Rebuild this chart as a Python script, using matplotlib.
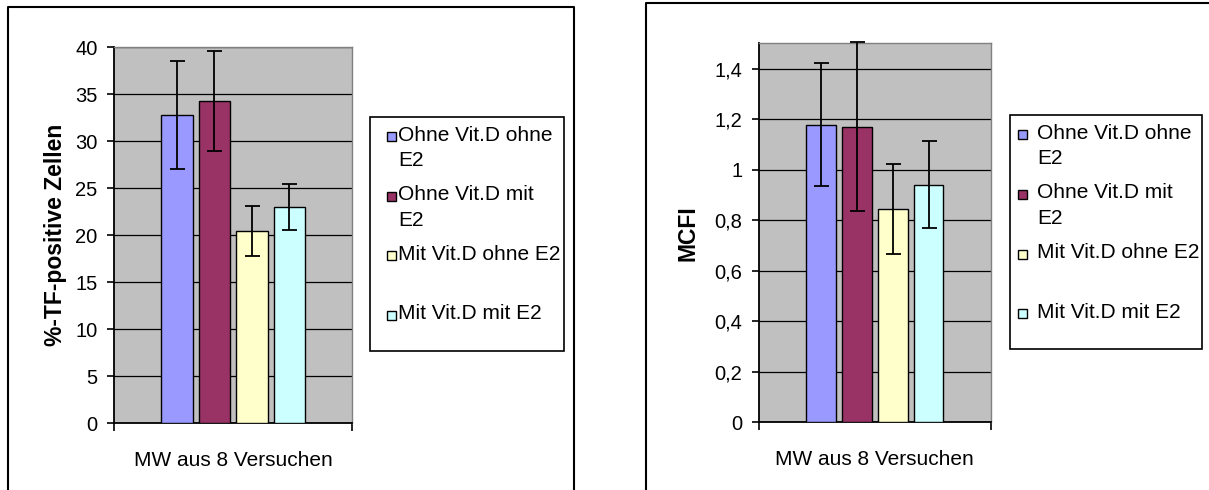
import numpy as np
import matplotlib
matplotlib.use("Agg")
import matplotlib.pyplot as plt
from matplotlib.ticker import FuncFormatter, MultipleLocator
from matplotlib.patches import Rectangle
from matplotlib.lines import Line2D

plt.rcParams['font.family'] = ['Liberation Sans', 'DejaVu Sans']

# data
groups = ["Ohne Vit.D ohne E2", "Ohne Vit.D mit E2", "Mit Vit.D ohne E2", "Mit Vit.D mit E2"]
legend_labels = ["Ohne Vit.D ohne\nE2", "Ohne Vit.D mit\nE2", "Mit Vit.D ohne E2", "Mit Vit.D mit E2"]
category = "MW aus 8 Versuchen"

tf_mean = [32.8, 34.3, 20.5, 23.0]
tf_err = [5.7, 5.35, 2.65, 2.45]

mcfi_mean = [1.178, 1.170, 0.845, 0.940]
mcfi_err = [0.243, 0.335, 0.178, 0.172]

colors = ['#9999FF', '#993366', '#FFFFCC', '#CCFFFF']

W, H = 1209, 490


def px_rect(x0, y0, x1, y1):
    # pixel box (top-left origin) -> figure fraction
    return [x0 / W, 1 - y1 / H, (x1 - x0) / W, (y1 - y0) / H]


def comma_fmt(v, pos):
    return f"{v:g}".replace('.', ',')


def draw_panel(fig, box, means, errs, ymax, step, ylabel, xlim, width, label_x):
    ax = fig.add_axes(px_rect(*box))
    ax.set_facecolor('#C0C0C0')
    x = np.arange(len(means))
    ax.bar(x, means, width=width, color=colors, edgecolor='black', linewidth=1.0, zorder=3)
    ax.errorbar(x, means, yerr=errs, fmt='none', ecolor='black', elinewidth=1.3,
                capsize=5.4, capthick=1.3, zorder=4, clip_on=False)
    ax.set_xlim(*xlim)
    ax.set_ylim(0, ymax)
    ax.yaxis.set_major_locator(MultipleLocator(step))
    ax.yaxis.set_major_formatter(FuncFormatter(comma_fmt))
    ax.grid(axis='y', color='black', linewidth=0.9, zorder=1)
    ax.set_axisbelow(True)

    ax.set_xticks([1.5])
    ax.set_xticklabels([category], fontsize=15)
    ax.tick_params(axis='x', which='major', length=0, pad=20)
    ax.set_xticks(list(xlim), minor=True)
    ax.tick_params(axis='x', which='minor', length=6, width=1.2, direction='out')
    ax.tick_params(axis='y', length=5, width=1.2, direction='out', pad=7, labelsize=14.5)

    for s in ['top', 'right']:
        ax.spines[s].set_color('#808080')
        ax.spines[s].set_linewidth(1.0)
    for s in ['left', 'bottom']:
        ax.spines[s].set_color('black')
        ax.spines[s].set_linewidth(1.3)

    ax.set_ylabel(ylabel, fontsize=16.5, fontweight='bold')
    ax.yaxis.set_label_coords(label_x, 0.5)
    return ax


def draw_legend(fig, box, marker_x, text_x, row0):
    x0, y0, x1, y1 = box
    fig.patches.append(Rectangle((x0 / W, 1 - y1 / H), (x1 - x0) / W, (y1 - y0) / H,
                                 transform=fig.transFigure, facecolor='white',
                                 edgecolor='black', linewidth=1.2))
    for i, (lab, c) in enumerate(zip(legend_labels, colors)):
        y = row0 + i * 59.5
        fig.patches.append(Rectangle(((marker_x - 4.5) / W, 1 - (y + 4.5) / H), 9 / W, 9 / H,
                                     transform=fig.transFigure, facecolor=c,
                                     edgecolor='black', linewidth=1.0))
        fig.text(text_x / W, 1 - (y - 11) / H, lab, fontsize=15, ha='left', va='top',
                 linespacing=1.42)


fig = plt.figure(figsize=(W / 100, H / 100), dpi=100)

# outer frames
frame_kw = dict(color='black', linewidth=1.5, transform=fig.transFigure)
fig.lines.append(Line2D([8.3 / W, 8.3 / W, 574.3 / W, 574.3 / W],
                        [0, 1 - 7.3 / H, 1 - 7.3 / H, 0], **frame_kw))
fig.lines.append(Line2D([646 / W, 646 / W, 1.0],
                        [0, 1 - 3.3 / H, 1 - 3.3 / H], **frame_kw))

draw_panel(fig, (114.3, 47.3, 352, 423.3), tf_mean, tf_err, 40, 5,
           "%-TF-positive Zellen", (-1.67, 4.67), 0.84, -0.20)
draw_panel(fig, (759, 43.3, 990.6, 422.3), mcfi_mean, mcfi_err, 1.5, 0.2,
           "MCFI", (-1.72, 4.72), 0.82, -0.255)

draw_legend(fig, (370, 116.7, 564.3, 350.7), 391.8, 397.8, 136.7)
draw_legend(fig, (1010, 115, 1202.3, 349.3), 1022.5, 1037.3, 135)

fig.savefig("out.png", dpi=100)
